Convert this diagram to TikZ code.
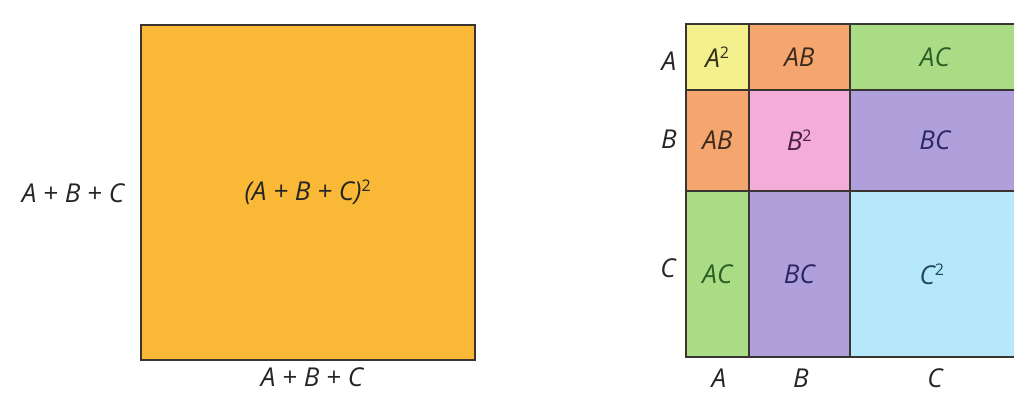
\documentclass[tikz,border=0pt]{standalone}
\usepackage{fontspec}
\setmainfont{Open Sans}
\definecolor{sqorange}{HTML}{F9B836}
\definecolor{cyellow}{HTML}{F5F08E}
\definecolor{corange}{HTML}{F4A66E}
\definecolor{cgreen}{HTML}{A9DC84}
\definecolor{cpink}{HTML}{F4ADD9}
\definecolor{cpurple}{HTML}{AFA0DC}
\definecolor{cblue}{HTML}{B5E8F8}
\definecolor{edge}{HTML}{3A3530}
\definecolor{lbl}{HTML}{252525}
\definecolor{tyel}{HTML}{2F2F1A}
\definecolor{tora}{HTML}{3E2A1C}
\definecolor{tgre}{HTML}{2C5E26}
\definecolor{tpin}{HTML}{45203F}
\definecolor{tpur}{HTML}{2A2660}
\definecolor{tblu}{HTML}{22475E}
\tikzset{
  cell/.style={draw=edge, line width=1.8pt, inner sep=0pt, anchor=north west, font=\fontsize{26}{30}\selectfont\itshape},
  lab/.style={inner sep=0pt, text=lbl, font=\fontsize{26}{30}\selectfont\itshape},
}
\newcommand{\sq}[1]{#1\textsuperscript{\upshape\fontsize{16}{17}\selectfont 2}}
\begin{document}
\begin{tikzpicture}[x=1pt,y=-1pt]
\useasboundingbox (0,0) rectangle (1014,398);
% left square
\node[cell, fill=sqorange, minimum width=334pt, minimum height=335pt, text=lbl] (big) at (140,24) {(\textit{A} + \textit{B} + \textit{C})\textsuperscript{\upshape\fontsize{16}{17}\selectfont 2}};
\node[lab] (bigL) at (73,193) {A + B + C};
\node[lab] (bigB) at (312,377) {A + B + C};
% grid
\node[cell, fill=cyellow, minimum width=63pt, minimum height=66pt, text=tyel] (aa) at (685,23) {\sq{A}};
\node[cell, fill=corange, minimum width=101pt, minimum height=66pt, text=tora] (ab1) at (748,23) {AB};
\node[cell, fill=cgreen, minimum width=170pt, minimum height=66pt, text=tgre] (ac1) at (849,23) {AC};
\node[cell, fill=corange, minimum width=63pt, minimum height=101pt, text=tora] (ab2) at (685,89) {AB};
\node[cell, fill=cpink, minimum width=101pt, minimum height=101pt, text=tpin] (bb) at (748,89) {\sq{B}};
\node[cell, fill=cpurple, minimum width=170pt, minimum height=101pt, text=tpur] (bc1) at (849,89) {BC};
\node[cell, fill=cgreen, minimum width=63pt, minimum height=166pt, text=tgre] (ac2) at (685,190) {AC};
\node[cell, fill=cpurple, minimum width=101pt, minimum height=166pt, text=tpur] (bc2) at (748,190) {BC};
\node[cell, fill=cblue, minimum width=170pt, minimum height=166pt] (cc) at (849,190) {};
\node[lab, text=tblu] (ccl) at (932,274) {\sq{C}};
% side labels
\node[lab] (rA) at (669,61) {A};
\node[lab] (rB) at (669,139) {B};
\node[lab] (rC) at (668,268) {C};
\node[lab] (cA) at (719,378) {A};
\node[lab] (cB) at (801,378) {B};
\node[lab] (cC) at (935,378) {C};
\end{tikzpicture}
\end{document}
